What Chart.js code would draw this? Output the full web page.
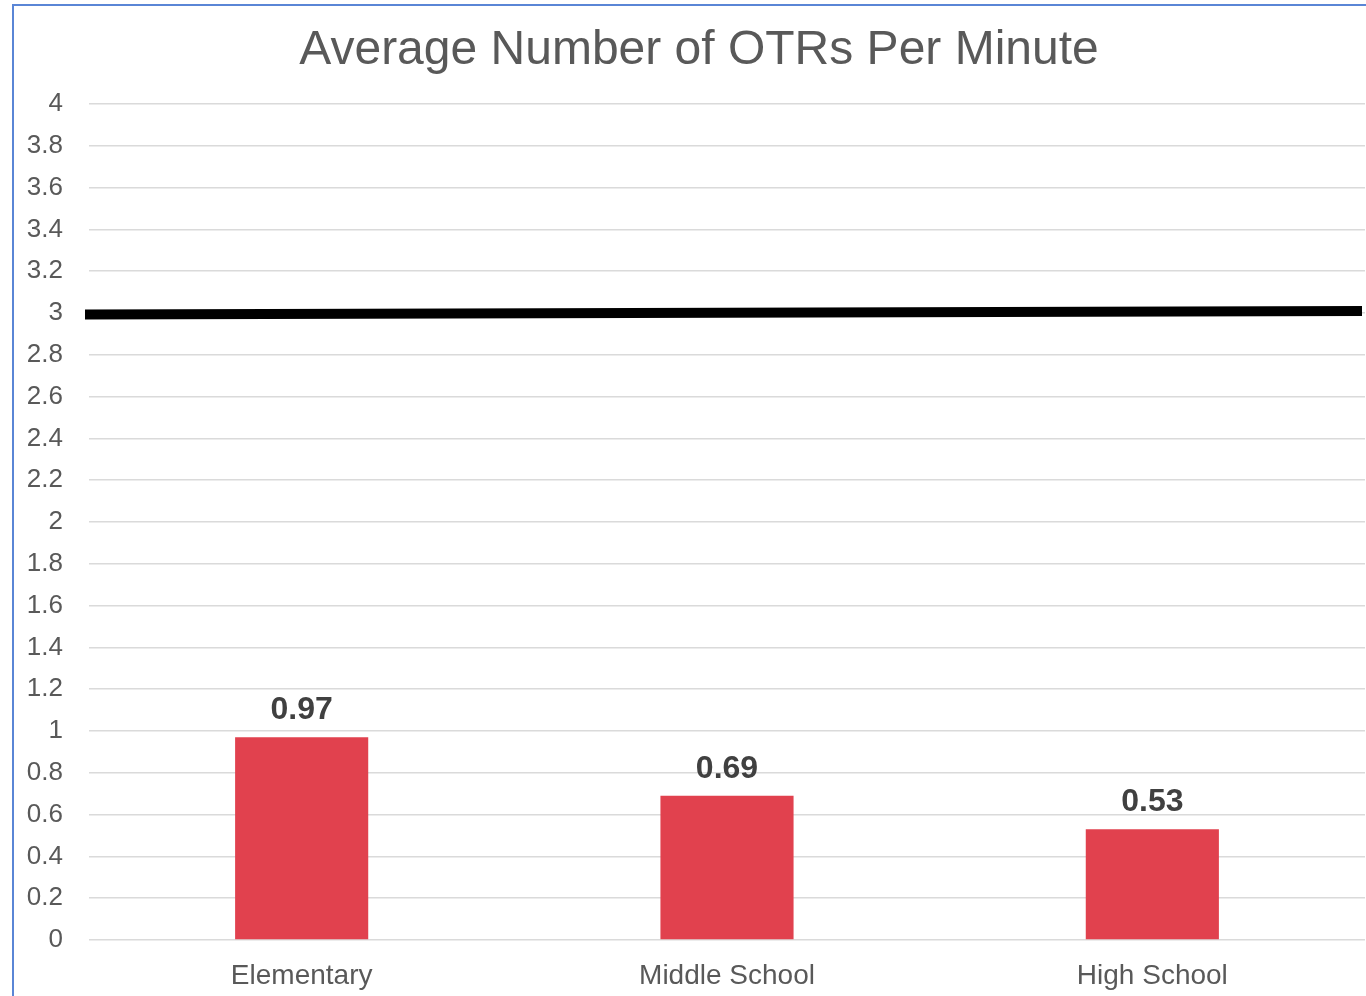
<!DOCTYPE html>
<html>
<head>
<meta charset="utf-8">
<script src="https://cdn.jsdelivr.net/npm/chart.js@4/dist/chart.umd.min.js"></script>
<style>
  html, body { margin: 0; padding: 0; background: #fff; }
  #wrap { position: absolute; left: 0; top: 0; width: 1366px; height: 996px; }
  #frame { position: absolute; left: 12px; top: 4px; width: 1354px; height: 992px;
           border-left: 2px solid #5a86d6; border-top: 2px solid #5a86d6; box-sizing: border-box; }
  canvas { position: absolute; left: 0; top: 0; }
</style>
</head>
<body>
<div id="wrap">
  <div id="frame"></div>
  <canvas id="c" width="1366" height="996"></canvas>
</div>
<script>
const titleText = 'Average Number of OTRs Per Minute';
const categories = ['Elementary', 'Middle School', 'High School'];
const otrValues = [0.97, 0.69, 0.53];
const targetLine = [2.993, 3.01]; // left end, right end (hand-drawn benchmark at 3)
const yTicks = [0, 0.2, 0.4, 0.6, 0.8, 1, 1.2, 1.4, 1.6, 1.8, 2, 2.2, 2.4, 2.6, 2.8, 3, 3.2, 3.4, 3.6, 3.8, 4];

const FONT = '"Liberation Sans", Arial, Helvetica, sans-serif';

const titlePlugin = {
  id: 'customTitle',
  afterDraw(chart) {
    const { ctx } = chart;
    ctx.save();
    ctx.font = '48px ' + FONT;
    ctx.fillStyle = '#595959';
    ctx.textAlign = 'center';
    ctx.textBaseline = 'middle';
    ctx.fillText(titleText, 699, 51);
    ctx.restore();
  }
};

const benchmarkPlugin = {
  id: 'benchmark',
  afterDatasetsDraw(chart) {
    const { ctx, chartArea, scales } = chart;
    const y = scales.y;
    ctx.save();
    ctx.strokeStyle = '#000';
    ctx.lineWidth = 10;
    ctx.lineCap = 'butt';
    ctx.beginPath();
    ctx.moveTo(chartArea.left - 4, y.getPixelForValue(targetLine[0]));
    ctx.lineTo(chartArea.right - 3, y.getPixelForValue(targetLine[1]));
    ctx.stroke();
    ctx.restore();
  }
};

const labelPlugin = {
  id: 'valueLabels',
  afterDatasetsDraw(chart) {
    const { ctx } = chart;
    const meta = chart.getDatasetMeta(0);
    ctx.save();
    ctx.font = 'bold 32px ' + FONT;
    ctx.fillStyle = '#404040';
    ctx.textAlign = 'center';
    ctx.textBaseline = 'middle';
    meta.data.forEach((bar, i) => {
      ctx.fillText(otrValues[i].toFixed(2), bar.x, bar.y - 27);
    });
    ctx.restore();
  }
};

new Chart(document.getElementById('c'), {
  type: 'bar',
  data: {
    labels: categories,
    datasets: [{
      data: otrValues,
      backgroundColor: '#e1414e',
      borderWidth: 0,
      categoryPercentage: 1,
      barPercentage: 0.313
    }]
  },
  options: {
    responsive: false,
    animation: false,
    devicePixelRatio: 1,
    layout: { padding: { left: 0, right: 1, top: 104, bottom: 0 } },
    plugins: {
      legend: { display: false },
      tooltip: { enabled: false },
      title: { display: false }
    },
    scales: {
      x: {
        offset: true,
        afterFit(scale) { scale.height = 56; },
        grid: { display: false },
        border: { display: false },
        ticks: { color: '#595959', font: { family: FONT, size: 28 }, padding: 11 }
      },
      y: {
        min: 0,
        max: 4,
        afterFit(scale) { scale.width = 89; },
        afterBuildTicks(scale) { scale.ticks = yTicks.map(v => ({ value: v })); },
        grid: { color: '#dadada', lineWidth: 1.5, drawTicks: false },
        border: { display: false },
        ticks: {
          color: '#595959',
          font: { family: FONT, size: 26 },
          padding: 26,
          callback: v => String(v)
        }
      }
    }
  },
  plugins: [titlePlugin, benchmarkPlugin, labelPlugin]
});
</script>
</body>
</html>
